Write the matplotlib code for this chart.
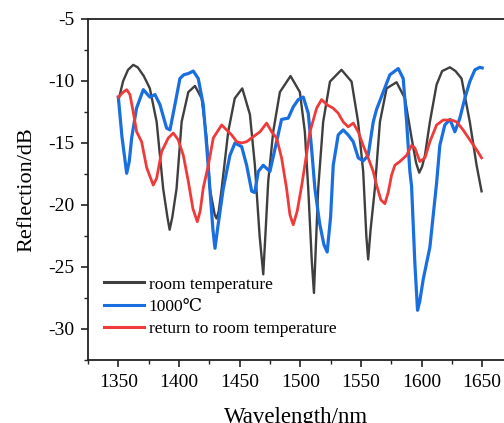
import matplotlib
matplotlib.use("Agg")
import matplotlib.pyplot as plt
import numpy as np
from matplotlib.ticker import MultipleLocator, FuncFormatter

# room temperature (gray)
rt_x = [1350, 1354, 1358, 1362.3, 1366, 1371, 1376, 1381.6, 1387, 1390.5, 1392.3, 1394.5, 1398,
        1402.2, 1407.7, 1413.2, 1418.7, 1422.8, 1425.5, 1429.5, 1431, 1432.8, 1435.2, 1440.6, 1446,
        1452.2, 1458.5, 1462.6, 1466.5, 1469.5, 1471.5, 1473.6, 1477.7, 1483.2, 1492, 1499.7,
        1503.8, 1506.6, 1509.5, 1511.3, 1513, 1514.8, 1518.9, 1524.5, 1534, 1542.3, 1547.7,
        1551.9, 1554.5, 1556, 1558, 1561.5, 1565.7, 1571.2, 1579.4, 1586.3, 1591.8, 1595.5,
        1598.1, 1600.5, 1602.8, 1606.9, 1612.4, 1617, 1623.4, 1628, 1633, 1639.8, 1645.4, 1649.5]
rt_y = [-11.6, -10.0, -9.1, -8.7, -8.9, -9.6, -10.6, -13.3, -18.7, -21.0, -22.0, -21.0, -18.7,
        -13.3, -10.9, -10.4, -11.4, -14.6, -18.7, -20.8, -21.1, -20.5, -18.7, -14.1, -11.4,
        -10.6, -12.7, -16.8, -22.5, -25.6, -22.0, -18.1, -14.1, -10.9, -9.6, -10.9,
        -14.1, -18.7, -24.5, -27.1, -23.0, -18.7, -13.3, -10.05, -9.1, -10.05, -13.3,
        -17.3, -22.5, -24.4, -22.0, -18.7, -13.3, -10.6, -10.1, -11.4, -14.6, -16.6,
        -17.4, -16.9, -16.0, -13.3, -10.3, -9.2, -8.9, -9.2, -9.8, -13.3, -16.8, -18.9]

# 1000 °C (blue)
hot_x = [1350, 1353, 1356.9, 1359, 1361, 1365, 1370.6, 1376, 1380.2, 1384.3, 1389.8, 1392.6,
         1396.7, 1400.8, 1404, 1407.7, 1411.8, 1415.9, 1420, 1422.8, 1425.5, 1428, 1429.7,
         1432, 1436.5, 1442, 1446.2, 1451.7, 1455.8, 1460, 1462.5, 1465.4, 1469.5, 1475,
         1480.5, 1484.6, 1490.1, 1494.2, 1498.4, 1502.5, 1506.6, 1509.3, 1512.1, 1516, 1519.5,
         1522.2, 1525, 1527.2, 1531.3, 1535.4, 1539.5, 1543.7, 1547.8, 1551.9, 1556, 1560.2,
         1562.9, 1568.4, 1573.9, 1580.8, 1584.9, 1587.7, 1590.4, 1591.8, 1594.5, 1596.7,
         1598.5, 1601.4, 1606.9, 1612.4, 1615.1, 1619.2, 1623.4, 1627.5, 1631.6, 1635.7,
         1639.8, 1644, 1648, 1650]
hot_y = [-11.3, -14.5, -17.45, -16.5, -14.6, -12.2, -10.7, -11.3, -11.1, -11.9, -13.8, -13.95,
         -11.9, -9.8, -9.5, -9.4, -9.2, -9.8, -11.9, -15.2, -18.7, -22.0, -23.5,
         -21.8, -18.7, -16.0, -15.0, -15.3, -16.8, -18.9, -19.0, -17.3, -16.8, -17.3,
         -14.9, -13.1, -13.0, -12.1, -11.5, -11.3, -12.6, -15.4, -18.7, -21.5, -23.2,
         -23.8, -21.0, -16.8, -14.35, -13.95, -14.35, -14.9, -16.2, -16.45, -16.0, -13.3,
         -12.3, -10.9, -9.5, -9.0, -9.8, -13.3, -17.3, -18.5, -24.7, -28.5,
         -27.8, -26.0, -23.4, -18.25, -15.2, -13.55, -13.1, -14.1, -13.0, -11.4,
         -10.05, -9.1, -8.9, -8.95]

# return to room temperature (red)
ret_x = [1350, 1354.1, 1356.9, 1359.6, 1362.3, 1365.1, 1369.2, 1373.4, 1378.8, 1381.6, 1385.7,
         1391.2, 1395.3, 1399.4, 1403.6, 1407.7, 1411.5, 1415.1, 1417.5, 1420, 1424.2, 1428.3,
         1435.2, 1439.3, 1443.4, 1447.6, 1451.7, 1455.8, 1461.2, 1466.8, 1472.3, 1476.4,
         1480.5, 1484.6, 1488.7, 1491.5, 1494.2, 1497.5, 1501.1, 1503.8, 1508, 1513.5, 1517.6,
         1521.7, 1527.2, 1531.3, 1535.4, 1539.5, 1543.7, 1547.8, 1551.9, 1556, 1560.2, 1562.9,
         1566.5, 1569.8, 1572.5, 1575.3, 1578, 1582.1, 1587.7, 1591.8, 1594.5, 1598.6, 1602.8,
         1606.9, 1612.4, 1617.9, 1624.8, 1628.9, 1634.3, 1639.8, 1645.4, 1649.5]
ret_y = [-11.3, -10.9, -10.7, -11.1, -12.5, -14.1, -14.9, -17.0, -18.4, -17.85, -15.7,
         -14.6, -14.2, -14.75, -16.0, -18.1, -20.3, -21.35, -20.5, -18.65, -16.8, -14.6,
         -13.55, -13.95, -14.35, -14.9, -15.0, -14.9, -14.5, -14.1, -13.4, -14.1,
         -14.6, -16.2, -18.65, -20.8, -21.6, -20.5, -18.5, -16.8, -14.1, -12.2, -11.5,
         -11.9, -12.2, -12.6, -13.3, -13.7, -13.4, -14.1, -15.2, -16.2, -17.3, -18.4,
         -19.6, -19.9, -19.0, -17.6, -16.8, -16.5, -16.0, -15.2, -15.4, -16.5, -16.2,
         -14.9, -13.55, -13.15, -13.15, -13.3, -13.95, -14.75, -15.55, -16.2]

labels = ["room temperature", "1000\u2103", "return to room temperature"]
colors = ["#3f3f3f", "#1a6fe0", "#f03a3a"]

plt.rcParams['font.family'] = ['Liberation Serif', 'DejaVu Serif']

fig = plt.figure(figsize=(5.04, 4.23), dpi=100)
ax = fig.add_axes([0.1746, 0.1478, 0.8254, 0.8073])

ax.plot(rt_x, rt_y, color=colors[0], lw=1.7, label=labels[0])
ax.plot(hot_x, hot_y, color=colors[1], lw=2.3, label=labels[1])
ax.plot(ret_x, ret_y, color=colors[2], lw=2.0, label=labels[2])

ax.set_xlim(1325, 1668)
ax.set_ylim(-32.55, -5)
ax.xaxis.set_major_locator(MultipleLocator(50))
ax.xaxis.set_minor_locator(MultipleLocator(25))
ax.yaxis.set_major_locator(MultipleLocator(5))
ax.yaxis.set_minor_locator(MultipleLocator(2.5))
ax.yaxis.set_major_formatter(FuncFormatter(lambda v, p: f"{v:.0f}".replace("\u2212", "-")))
ax.xaxis.set_major_formatter(FuncFormatter(lambda v, p: f"{v:.0f}"))
ax.tick_params(which='major', direction='out', length=5, width=1.2, labelsize=14,
               color='#222222', pad=5)
ax.tick_params(which='minor', direction='out', length=3, width=1.0, color='#222222')
ax.spines['right'].set_visible(False)
for s in ['left', 'bottom', 'top']:
    ax.spines[s].set_linewidth(1.3)
    ax.spines[s].set_color('#222222')

ax.set_xlabel("Wavelength/nm", fontsize=16.5, labelpad=11)
ax.set_ylabel("Reflection/dB", fontsize=16, labelpad=8)

leg = ax.legend(loc='lower left', bbox_to_anchor=(0.0, 0.022), frameon=False, fontsize=12.5,
                handlelength=2.35, handletextpad=0.25, labelspacing=0.36, borderaxespad=0.5)
for line in leg.get_lines():
    line.set_linewidth(2.2)

fig.savefig("out.png", dpi=100)
